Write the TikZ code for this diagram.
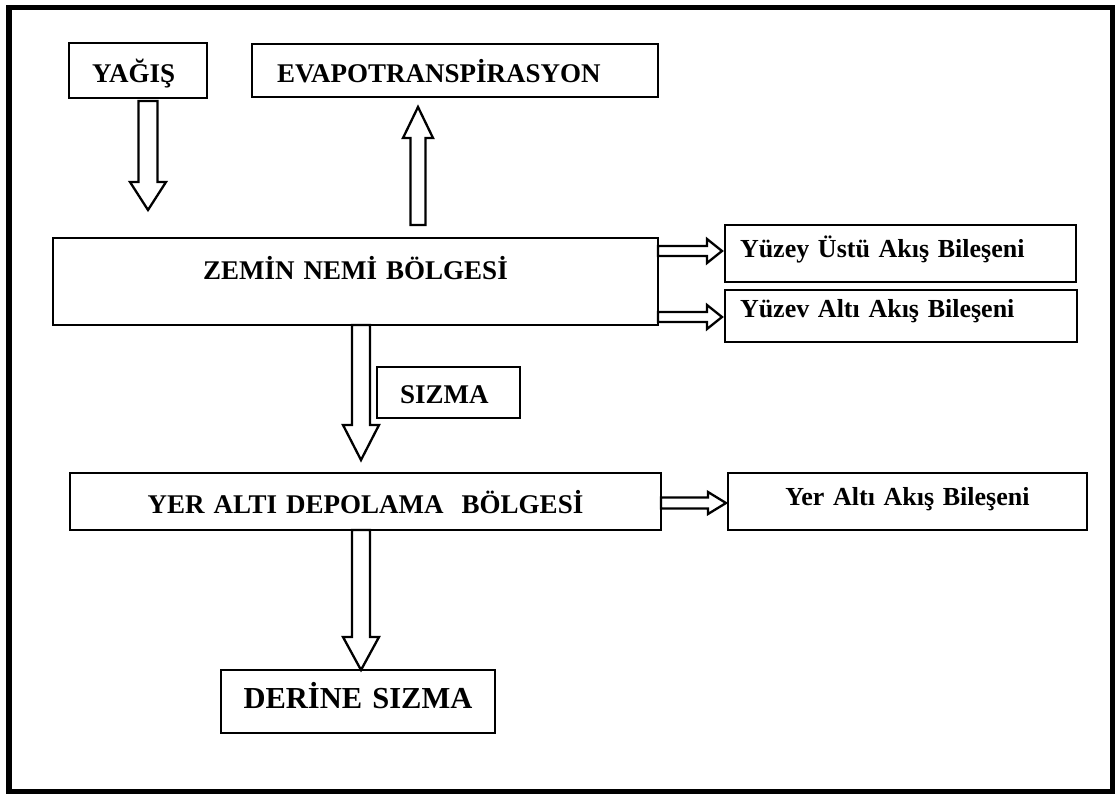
\documentclass[tikz,border=0pt]{standalone}
\usepackage{fontspec}
\setmainfont{Liberation Serif}
\usetikzlibrary{calc}

\tikzset{
  box/.style={draw, line width=2.8pt, anchor=north west, outer sep=0pt,
    inner ysep=0pt, align=left, font=\bfseries\fontsize{27}{30}\selectfont},
  mid/.style={align=center},
  small/.style={font=\bfseries\fontsize{26}{30}\selectfont},
  big/.style={font=\bfseries\fontsize{30.5}{34}\selectfont},
  % inner x margin, text width, height above and depth below the baseline
  tbox/.style n args={4}{inner xsep=#1pt, text width=#2pt,
    text height=#3pt, text depth=#4pt},
  arrowline/.style={draw, line width=2.3pt, fill=white, line join=miter},
  frame/.style={draw, line width=5.5pt},
}

% hollow block arrow along a vertical line: start, tip, half shaft width,
% half head width, head length (positive pointing down, negative pointing up)
\newcommand\vblock[5]{%
  \path[arrowline] let \p1=(#1), \p2=(#2) in
    (\x1-#3pt,\y1) -- (\x1-#3pt,\y2+#5pt) -- (\x1-#4pt,\y2+#5pt) --
    (\x1,\y2) -- (\x1+#4pt,\y2+#5pt) -- (\x1+#3pt,\y2+#5pt) --
    (\x1+#3pt,\y1) -- cycle;}
% hollow block arrow pointing right
\newcommand\hblock[5]{%
  \path[arrowline] let \p1=(#1), \p2=(#2) in
    (\x1,\y1+#3pt) -- (\x2-#5pt,\y1+#3pt) -- (\x2-#5pt,\y1+#4pt) --
    (\x2,\y1) -- (\x2-#5pt,\y1-#4pt) -- (\x2-#5pt,\y1-#3pt) --
    (\x1,\y1-#3pt) -- cycle;}

\begin{document}
\begin{tikzpicture}[x=1pt,y=-1pt]
\useasboundingbox[fill=white] (0,0) rectangle (1115,793);
\draw[frame] (9,7.5) rectangle (1112.5,791.5);

% boxes
\node[box, tbox={23}{92}{39}{16}] (yagis) at (69,43) {\mbox{YAĞIŞ}};
\node[box, tbox={25}{356}{38}{15}] (evap) at (252,44) {\mbox{EVAPOTRANSPİRASYON}};
\node[box, mid, tbox={10}{585}{41}{46}] (zemin) at (53,238) {ZEMİN NEMİ BÖLGESİ};
\node[box, small, tbox={15}{321}{32}{25}] (ustu) at (725,225) {\mbox{Yüzey Üstü Akış Bileşeni}};
\node[box, small, tbox={15}{322}{27}{25}] (alti) at (725,290) {\mbox{Yüzev Altı Akış Bileşeni}};
\node[box, tbox={23}{97}{36}{15}] (sizma) at (377,367) {\mbox{SIZMA}};
\node[box, mid, tbox={10}{571}{40}{17}] (yeralti) at (70,473) {YER ALTI DEPOLAMA\ \ BÖLGESİ};
\node[box, mid, small, tbox={10}{339}{32}{25}] (yakis) at (728,473) {Yer Altı Akış Bileşeni};
\node[box, mid, big, tbox={6}{262}{38}{25}] (derine) at (221,670) {DERİNE SIZMA};

% arrow columns
\coordinate (colR) at (148,0);
\coordinate (colE) at (418,0);
\coordinate (colS) at (361,0);

% vertical flows
\vblock{$(yagis.south -| colR)+(0,3)$}{$(zemin.north -| colR)+(0,-28)$}{9.5}{18}{28}
\vblock{$(zemin.north -| colE)+(0,-13)$}{$(evap.south -| colE)+(0,10)$}{7.5}{15}{-31}
\vblock{$(zemin.south -| colS)$}{$(yeralti.north -| colS)+(0,-13)$}{9}{18}{35}
\vblock{$(yeralti.south -| colS)$}{$(derine.north -| colS)$}{9}{18}{33}

% horizontal flows
\hblock{$(zemin.east |- ustu.west)+(0,-2.5)$}{$(ustu.west)+(-3,-2.5)$}{5}{12}{15}
\hblock{$(zemin.east |- alti.west)+(0,1)$}{$(alti.west)+(-3,1)$}{5}{12}{15}
\hblock{$(yeralti.east |- yakis.west)+(0,1.5)$}{$(yakis.west)+(-2,1.5)$}{5.5}{11}{18}
\end{tikzpicture}
\end{document}
